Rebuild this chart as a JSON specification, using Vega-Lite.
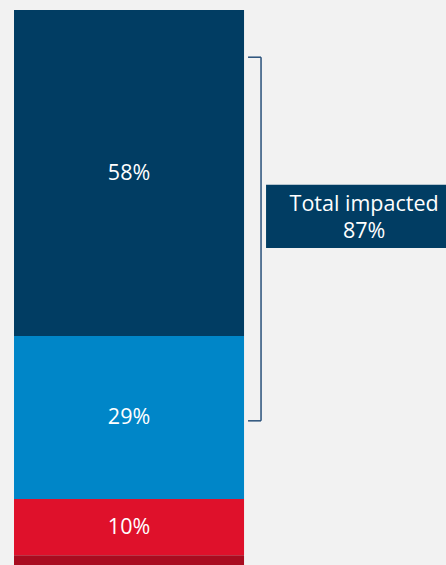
{
  "$schema": "https://vega.github.io/schema/vega-lite/v6.json",
  "width": 446,
  "height": 562,
  "autosize": {"type": "none"},
  "padding": {"left": 0, "top": 10, "right": 0, "bottom": 0},
  "background": "#f2f2f2",
  "config": {"view": {"stroke": null}, "text": {"font": "Open Sans"}},
  "layer": [
    {
      "data": {"values": [
        {"segment": "A", "value": 58, "label": "58%", "order": 4},
        {"segment": "B", "value": 29, "label": "29%", "order": 3},
        {"segment": "C", "value": 10, "label": "10%", "order": 2},
        {"segment": "D", "value": 3, "label": "", "order": 1}
      ]},
      "transform": [
        {"stack": "value", "sort": [{"field": "order", "order": "ascending"}], "groupby": [], "as": ["y0", "y1"]},
        {"calculate": "(datum.y0 + datum.y1) / 2", "as": "mid"}
      ],
      "layer": [
        {
          "mark": {"type": "rect"},
          "encoding": {
            "x": {"datum": 0, "type": "quantitative", "scale": {"domain": [-0.0609, 1.878], "nice": false, "zero": false}, "axis": null},
            "x2": {"datum": 1},
            "y": {"field": "y0", "type": "quantitative", "scale": {"domain": [0, 100], "nice": false}, "axis": null},
            "y2": {"field": "y1"},
            "color": {"field": "segment", "type": "nominal", "scale": {"domain": ["A", "B", "C", "D"], "range": ["#013d63", "#0086c8", "#df112b", "#a90c20"]}, "legend": null}
          }
        },
        {
          "mark": {"type": "text", "color": "white", "fontSize": 21.5, "baseline": "middle", "align": "center", "dy": 1},
          "encoding": {
            "x": {"datum": 0.5, "type": "quantitative"},
            "y": {"field": "mid", "type": "quantitative"},
            "text": {"field": "label"}
          }
        }
      ]
    },
    {
      "data": {"values": [{"title": "Total impacted", "total": "87%"}]},
      "layer": [
        {
          "mark": {"type": "rule", "color": "#28507a", "strokeWidth": 1.5},
          "encoding": {"x": {"datum": 1.0174, "type": "quantitative"}, "x2": {"datum": 1.0739}, "y": {"datum": 91.6, "type": "quantitative"}}
        },
        {
          "mark": {"type": "rule", "color": "#28507a", "strokeWidth": 1.5},
          "encoding": {"x": {"datum": 1.0174, "type": "quantitative"}, "x2": {"datum": 1.0739}, "y": {"datum": 26.9, "type": "quantitative"}}
        },
        {
          "mark": {"type": "rule", "color": "#28507a", "strokeWidth": 1.5},
          "encoding": {"x": {"datum": 1.0739, "type": "quantitative"}, "y": {"datum": 91.6, "type": "quantitative"}, "y2": {"datum": 26.9}}
        },
        {
          "mark": {"type": "rect", "color": "#013d63"},
          "encoding": {"x": {"datum": 1.0957, "type": "quantitative"}, "x2": {"datum": 1.948}, "y": {"datum": 57.65, "type": "quantitative"}, "y2": {"datum": 68.9}}
        },
        {
          "mark": {"type": "text", "color": "white", "fontSize": 21.5, "baseline": "alphabetic", "align": "center"},
          "encoding": {"x": {"datum": 1.522, "type": "quantitative"}, "y": {"datum": 64.2, "type": "quantitative"}, "text": {"field": "title"}}
        },
        {
          "mark": {"type": "text", "color": "white", "fontSize": 21.5, "baseline": "alphabetic", "align": "center"},
          "encoding": {"x": {"datum": 1.522, "type": "quantitative"}, "y": {"datum": 59.4, "type": "quantitative"}, "text": {"field": "total"}}
        }
      ]
    }
  ]
}
